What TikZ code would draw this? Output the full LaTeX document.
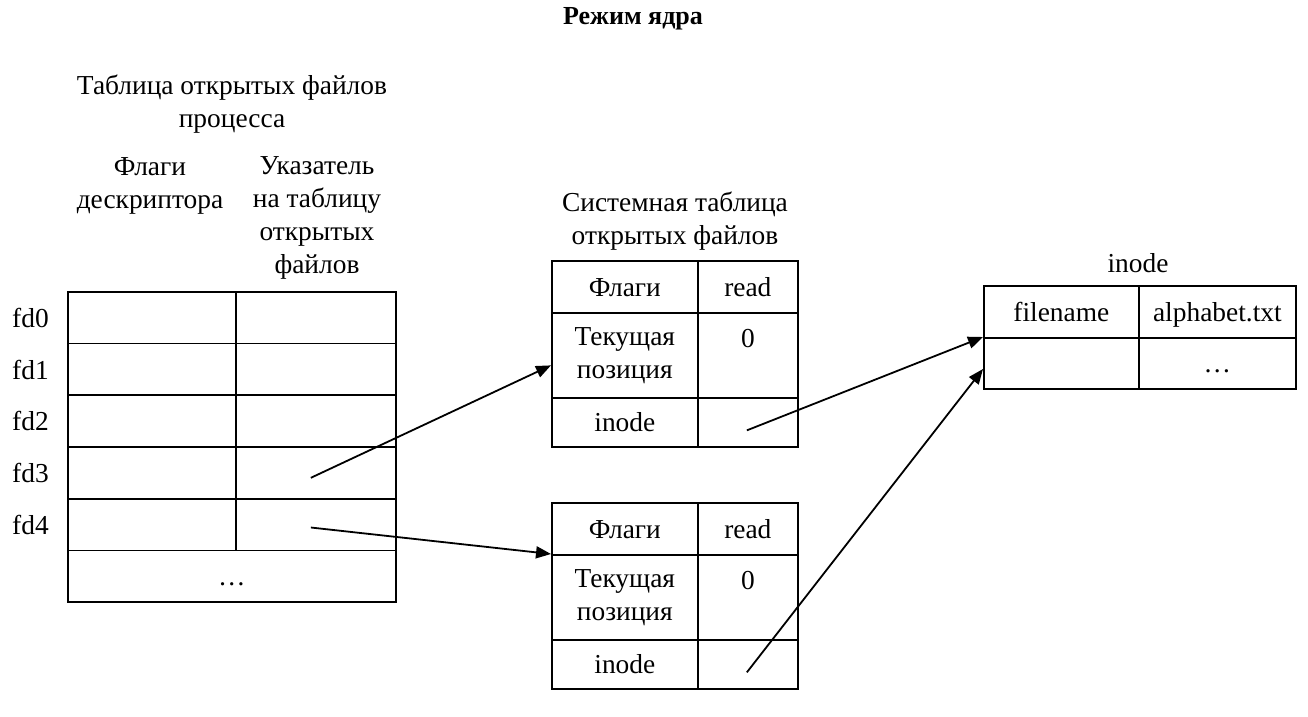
\documentclass[tikz,border=0pt]{standalone}
\usepackage{fontspec}
\setmainfont{Liberation Serif}
\usetikzlibrary{arrows.meta}

\begin{document}
\begin{tikzpicture}
              [x=1pt, y=-1pt,
               every node/.style={font=\fontsize{27.4}{33}\selectfont, inner sep=0pt},
               cell/.style={draw, line width=1.7pt, anchor=north west},
               onerow/.style={text height=22pt, text depth=3pt},
               arr/.style={-{Triangle[length=15pt, width=12pt]}, line width=1.8pt}]
              \useasboundingbox (0,0) rectangle (1308,716);
              % titles %
              \node[font=\fontsize{26}{33}\selectfont\bfseries] (title) at (633,19) {Режим ядра};
              \node[align=center] (proc) at (232,104) {Таблица открытых файлов\\процесса};
              \node[align=center] (hflags) at (150,186) {Флаги\\дескриптора};
              \node[align=center] (hptr) at (317,218) {Указатель\\на таблицу\\открытых\\файлов};
              \node[align=center] (sys) at (675,221) {Системная таблица\\открытых файлов};
              \node (hinode) at (1138,263) {inode};

              % process table %
              \foreach \i in {0,...,4} {
                \node[cell, minimum width=168pt, minimum height=51.7pt] (fl\i) at (67,291+51.7*\i) {};
                \node[cell, minimum width=160pt, minimum height=51.7pt] (pt\i) at (235,291+51.7*\i) {};
                \node[anchor=west] (fd\i) at (12,318+51.7*\i) {fd\i};
              }
              \node[cell, onerow, minimum width=328pt, minimum height=51.7pt] (rest) at (67,549.5) {\dots};

              % system table %
              \foreach \y/\n in {260/a, 502/b} {
                \node[cell, onerow, minimum width=146pt, minimum height=52pt] (flag\n) at (551,\y) {Флаги};
                \node[cell, onerow, minimum width=100pt, minimum height=52pt] (flagv\n) at (697,\y) {read};
                \node[cell, minimum width=146pt, minimum height=85pt, align=center] (pos\n) at (551,\y+52) {Текущая\\позиция};
                \node[cell, minimum width=100pt, minimum height=85pt] (posv\n) at (697,\y+52) {};
                \node[anchor=north] (zero\n) at ([yshift=-17pt]posv\n.north) {0};
                \node[cell, onerow, minimum width=146pt, minimum height=49pt] (ino\n) at (551,\y+137) {inode};
                \node[cell, minimum width=100pt, minimum height=49pt] (inov\n) at (697,\y+137) {};
              }

              % inode table %
              \node[cell, onerow, minimum width=155pt, minimum height=52pt] (fname) at (983,285) {filename};
              \node[cell, onerow, minimum width=157pt, minimum height=52pt] (fnamev) at (1138,285) {alphabet.txt};
              \node[cell, minimum width=155pt, minimum height=51pt] (other) at (983,337) {};
              \node[cell, onerow, minimum width=157pt, minimum height=51pt] (otherv) at (1138,337) {\dots};

              % edges %
              \coordinate (s3) at ([xshift=-5pt, yshift=-5pt]pt3.center);
              \coordinate (s4) at ([xshift=-5pt, yshift=-3pt]pt4.center);
              \coordinate (sa) at ([xshift=-1pt, yshift=-8pt]inova.center);
              \coordinate (sb) at ([xshift=-1pt, yshift=-8pt]inovb.center);
              \draw[arr] (s3) -- ([yshift=-10pt]posa.west);
              \draw[arr] (s4) -- (posb.north west);
              \draw[arr] (sa) -- (other.north west);
              \draw[arr] (sb) -- ([yshift=-32pt]other.north west);
            \end{tikzpicture}
\end{document}
